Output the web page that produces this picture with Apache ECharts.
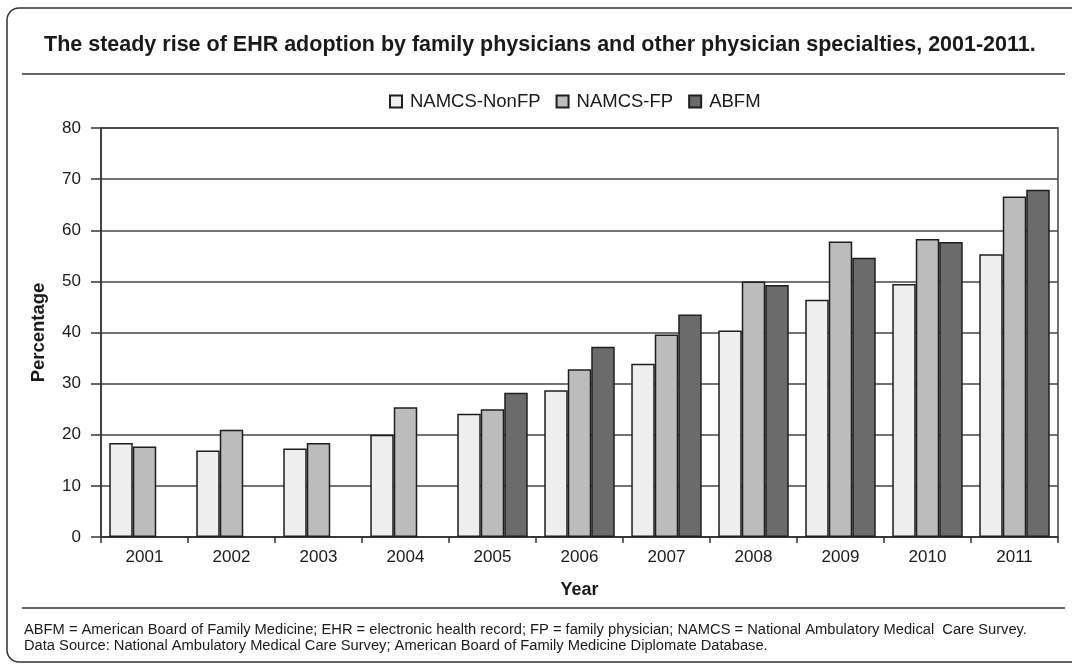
<!DOCTYPE html>
<html>
<head>
<meta charset="utf-8">
<script src="https://cdn.jsdelivr.net/npm/echarts@6/dist/echarts.min.js"></script>
<style>html,body{margin:0;padding:0;background:#fff}#c{width:1072px;height:669px}</style>
</head>
<body>
<div id="c"></div>
<script>
const years = ['2001','2002','2003','2004','2005','2006','2007','2008','2009','2010','2011'];
const namcsNonFP = [18.4, 16.9, 17.3, 20.0, 24.1, 28.7, 33.9, 40.4, 46.4, 49.5, 55.3];
const namcsFP = [17.7, 21.0, 18.4, 25.4, 25.0, 32.8, 39.6, 50.0, 57.8, 58.3, 66.6];
const abfm = [null, null, null, null, 28.2, 37.2, 43.5, 49.3, 54.6, 57.7, 67.9];
const seriesNames = ['NAMCS-NonFP', 'NAMCS-FP', 'ABFM'];
const titleText = 'The steady rise of EHR adoption by family physicians and other physician specialties, 2001-2011.';
const footnote1 = 'ABFM = American Board of Family Medicine; EHR = electronic health record; FP = family physician; NAMCS = National Ambulatory Medical  Care Survey.';
const footnote2 = 'Data Source: National Ambulatory Medical Care Survey; American Board of Family Medicine Diplomate Database.';

const FONT = '"Liberation Sans", Arial, sans-serif';
const colors = ['#eeeeee', '#bbbcbb', '#6b6b6b'];
const chart = echarts.init(document.getElementById('c'), null, {renderer: 'canvas'});
const mk = (name, data, i) => ({
  name, type: 'bar', data, barGap: 0, barCategoryGap: '19%',
  itemStyle: {color: colors[i], borderColor: '#1e1e1e', borderWidth: 1.5},
  emphasis: {disabled: true}
});
chart.setOption({
  animation: false,
  textStyle: {fontFamily: FONT},
  title: {
    text: titleText, left: 44, top: 34, padding: 0,
    textStyle: {fontFamily: FONT, fontSize: 21.5, fontWeight: 'bold', color: '#1a1a1a'}
  },
  legend: {
    top: 87, left: 384, icon: 'rect', itemWidth: 12, itemHeight: 12, itemGap: 15,
    textStyle: {fontFamily: FONT, fontSize: 18.5, color: '#1a1a1a', padding: [0, 0, 0, 3]},
    data: seriesNames
  },
  grid: {left: 101, right: 14, top: 128, bottom: 132, show: true, borderColor: '#444', borderWidth: 1.5, containLabel: false},
  xAxis: {
    type: 'category', data: years,
    axisLine: {lineStyle: {color: '#333', width: 1.5}},
    axisTick: {show: true, length: 6, lineStyle: {color: '#333', width: 1.5}},
    axisLabel: {fontSize: 17, color: '#1a1a1a', margin: 12, fontFamily: FONT},
    name: 'Year', nameLocation: 'middle', nameGap: 44,
    nameTextStyle: {fontSize: 18, fontWeight: 'bold', color: '#1a1a1a', fontFamily: FONT}
  },
  yAxis: {
    type: 'value', min: 0, max: 80, interval: 10,
    axisLine: {show: true, lineStyle: {color: '#333', width: 1.5}},
    axisTick: {show: true, length: 10, lineStyle: {color: '#333', width: 1.5}},
    axisLabel: {fontSize: 17, color: '#1a1a1a', margin: 20, fontFamily: FONT},
    splitLine: {show: true, lineStyle: {color: '#444', width: 1.5}},
    name: 'Percentage', nameLocation: 'middle', nameGap: 53, nameRotate: 90,
    nameTextStyle: {fontSize: 18.5, fontWeight: 'bold', color: '#1a1a1a', fontFamily: FONT}
  },
  series: [mk(seriesNames[0], namcsNonFP, 0), mk(seriesNames[1], namcsFP, 1), mk(seriesNames[2], abfm, 2)],
  graphic: [
    {type: 'rect', shape: {x: 7, y: 8, width: 1090, height: 654, r: 12}, style: {fill: 'none', stroke: '#333', lineWidth: 1.5}, silent: true},
    {type: 'line', shape: {x1: 22, y1: 74, x2: 1065, y2: 74}, style: {stroke: '#333', lineWidth: 1.5}, silent: true},
    {type: 'line', shape: {x1: 22, y1: 608, x2: 1065, y2: 608}, style: {stroke: '#333', lineWidth: 1.5}, silent: true},
    {type: 'text', style: {x: 24, y: 630, text: footnote1, font: '14.7px ' + FONT, fill: '#1a1a1a', verticalAlign: 'middle'}, silent: true},
    {type: 'text', style: {x: 24, y: 646, text: footnote2, font: '14.7px ' + FONT, fill: '#1a1a1a', verticalAlign: 'middle'}, silent: true}
  ]
});
</script>
</body>
</html>
